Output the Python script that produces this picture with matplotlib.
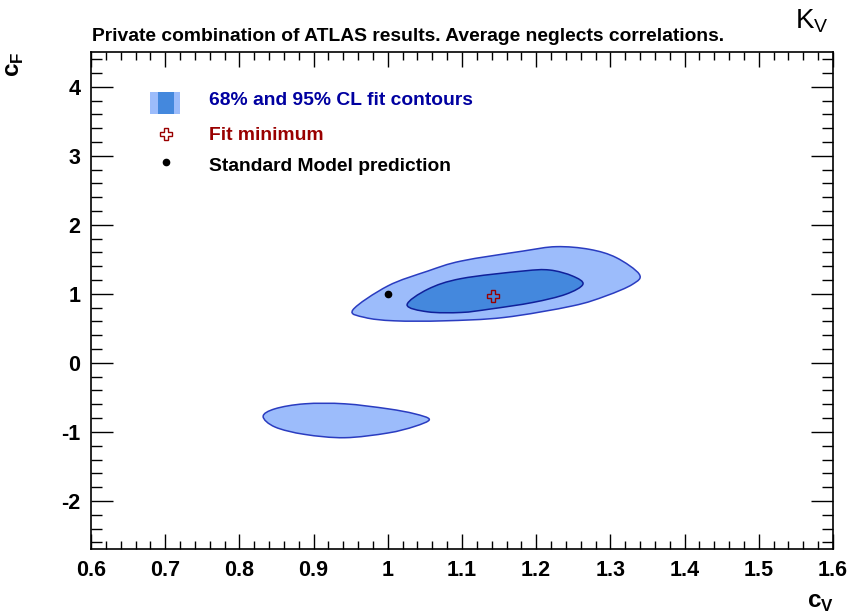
import numpy as np
import matplotlib
matplotlib.use("Agg")
import matplotlib.pyplot as plt
from matplotlib.path import Path
from matplotlib.patches import PathPatch, Rectangle
from matplotlib.ticker import MultipleLocator, FuncFormatter

plt.rcParams['font.family'] = ['Liberation Sans', 'DejaVu Sans']
plt.rcParams['mathtext.fontset'] = 'custom'
plt.rcParams['mathtext.rm'] = 'Liberation Sans'
plt.rcParams['mathtext.bf'] = 'Liberation Sans:bold'

# ---- data ----
title = "Private combination of ATLAS results. Average neglects correlations."
legend_labels = ["68% and 95% CL fit contours", "Fit minimum", "Standard Model prediction"]

# 95% CL contour, main region (c_V, c_F outline points)
c95_main_x = [0.953, 0.969, 1.009, 1.076, 1.157, 1.249, 1.294, 1.330, 1.339, 1.308, 1.272, 1.227, 1.182, 1.099, 1.054, 1.000]
c95_main_y = [0.768, 0.658, 0.609, 0.609, 0.658, 0.825, 0.970, 1.139, 1.283, 1.524, 1.644, 1.683, 1.619, 1.475, 1.330, 1.114]

# 95% CL contour, second (negative c_F) region
c95_low_x = [0.832, 0.848, 0.888, 0.942, 1.000, 1.036, 1.056, 1.036, 1.000, 0.942, 0.888, 0.848]
c95_low_y = [-0.776, -0.929, -1.036, -1.084, -1.016, -0.921, -0.820, -0.737, -0.665, -0.593, -0.593, -0.665]

# 68% CL contour
c68_x = [1.026, 1.054, 1.099, 1.137, 1.195, 1.240, 1.263, 1.249, 1.218, 1.182, 1.099, 1.054]
c68_y = [0.840, 0.739, 0.730, 0.778, 0.874, 0.994, 1.139, 1.258, 1.345, 1.330, 1.221, 1.067]

fit_min = (1.142, 0.970)
sm_point = (1.0, 1.0)

xlim = (0.6, 1.6)
ylim = (-2.7, 4.5)

# ---- styles ----
light = '#9cbcfb'
dark = '#4488dd'
edge95 = '#2a3cc0'
edge68 = '#10209a'


def smooth_closed_path(xs, ys):
    """Closed Catmull-Rom outline expressed as cubic Bezier path segments."""
    P = np.column_stack([xs, ys]).astype(float)
    n = len(P)
    verts = [P[0]]
    codes = [Path.MOVETO]
    for i in range(n):
        p0, p1, p2, p3 = P[i - 1], P[i], P[(i + 1) % n], P[(i + 2) % n]
        c1 = p1 + (p2 - p0) / 6.0
        c2 = p2 - (p3 - p1) / 6.0
        verts += [c1, c2, p2]
        codes += [Path.CURVE4] * 3
    verts.append(P[0])
    codes.append(Path.CLOSEPOLY)
    return Path(verts, codes)


fig = plt.figure(figsize=(8.56, 6.16), dpi=100)
ax = fig.add_axes([0.1063, 0.1083, 0.8668, 0.8070])
ax.set_xlim(*xlim)
ax.set_ylim(*ylim)

for xs, ys in [(c95_main_x, c95_main_y), (c95_low_x, c95_low_y)]:
    ax.add_patch(PathPatch(smooth_closed_path(xs, ys), facecolor=light,
                           edgecolor=edge95, lw=1.1, zorder=2))
ax.add_patch(PathPatch(smooth_closed_path(c68_x, c68_y), facecolor=dark,
                       edgecolor=edge68, lw=1.1, zorder=3))

ax.plot(*fit_min, marker='P', ms=9, mfc='none', mec='#990000', mew=1.0, ls='none', zorder=5)
ax.plot(*sm_point, marker='o', ms=4.5, color='black', ls='none', zorder=5)

# ---- legend (drawn manually in axes coordinates) ----
ax.add_patch(Rectangle((0.0795, 0.8766), 0.0405, 0.0429, transform=ax.transAxes,
                       facecolor=light, edgecolor='none', zorder=6))
ax.add_patch(Rectangle((0.0899, 0.8766), 0.0220, 0.0429, transform=ax.transAxes,
                       facecolor=dark, edgecolor='none', zorder=7))
ax.plot([0.101], [0.836], transform=ax.transAxes, marker='P', ms=9, mfc='none',
        mec='#990000', mew=1.0, ls='none', zorder=7)
ax.plot([0.101], [0.780], transform=ax.transAxes, marker='o', ms=4.5,
        color='black', ls='none', zorder=7)
legend_colors = ['#0000a0', '#990000', 'black']
legend_y = [0.8933, 0.8242, 0.7604]
for lab, col, yy in zip(legend_labels, legend_colors, legend_y):
    ax.text(0.159, yy, lab, transform=ax.transAxes, color=col, fontsize=13.9,
            fontweight='bold', va='baseline', ha='left')

# ---- axes styling ----
ax.xaxis.set_major_locator(MultipleLocator(0.1))
ax.xaxis.set_minor_locator(MultipleLocator(0.02))
ax.yaxis.set_major_locator(MultipleLocator(1))
ax.yaxis.set_minor_locator(MultipleLocator(0.2))
ax.xaxis.set_major_formatter(FuncFormatter(lambda v, p: f"{v:g}"))
ax.yaxis.set_major_formatter(FuncFormatter(lambda v, p: f"{v:g}"))

ax.tick_params(axis='both', which='both', direction='in', top=True, right=True,
               width=1.0, color='black')
ax.tick_params(axis='x', which='major', length=10.8, pad=7.5, labelsize=15.5)
ax.tick_params(axis='x', which='minor', length=5.8)
ax.tick_params(axis='y', which='major', length=15.8, pad=7.5, labelsize=15.5)
ax.tick_params(axis='y', which='minor', length=8.2)
for lab in ax.get_xticklabels() + ax.get_yticklabels():
    lab.set_fontweight('bold')
for sp in ax.spines.values():
    sp.set_linewidth(1.2)

# axis titles
fig.text(0.9585, 0.0135, r'$\mathbf{c}_\mathbf{V}$', fontsize=17.5, ha='center', va='baseline')
fig.text(0.0172, 0.896, r'$\mathbf{c}_\mathbf{F}$', fontsize=17.5, rotation=90,
         ha='center', va='center')

# title and K_V label
fig.text(0.1075, 0.934, title, fontsize=13.9, fontweight='bold', ha='left', va='baseline')
fig.text(0.929, 0.954, r'$\mathregular{K_V}$', fontsize=20, ha='left', va='baseline')

fig.savefig('out.png', dpi=100)
